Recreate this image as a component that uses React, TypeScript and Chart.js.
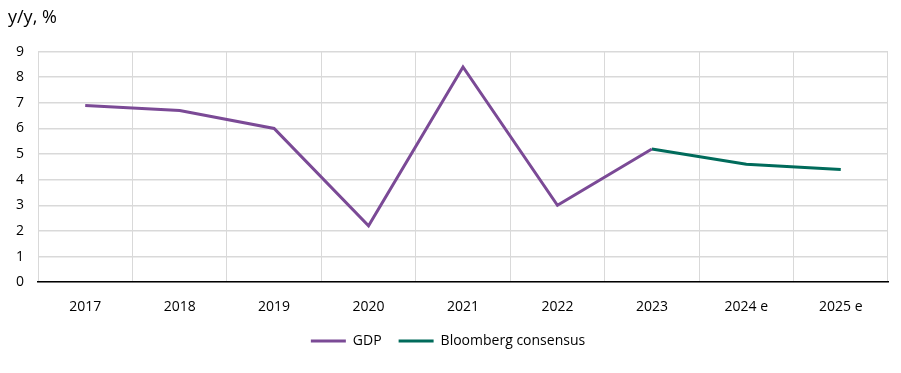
import React, { useEffect, useRef } from "react";
import { Chart, registerables } from "chart.js";

Chart.register(...registerables);

const categories = ["2017", "2018", "2019", "2020", "2021", "2022", "2023", "2024 e", "2025 e"];
const gdp = [6.9, 6.7, 6.0, 2.2, 8.4, 3.0, 5.2, null, null];
const consensus = [null, null, null, null, null, null, 5.2, 4.6, 4.4];
const yTicks = [0, 1, 2, 3, 4, 5, 6, 7, 8, 9];

const FONT = "'Open Sans', 'Noto Sans', sans-serif";

const legendShift = {
  id: "legendShift",
  afterLayout(chart: any) {
    if (chart.legend) {
      chart.legend.top -= 14;
      chart.legend.bottom -= 14;
    }
  },
};

export default function App() {
  const ref = useRef<HTMLCanvasElement>(null);
  useEffect(() => {
    if (!ref.current) return;
    const chart = new Chart(ref.current, {
      type: "line",
      data: {
        labels: categories,
        datasets: [
          {
            label: "GDP",
            data: gdp,
            borderColor: "#7B4A96",
            backgroundColor: "#7B4A96",
            borderWidth: 3,
            pointRadius: 0,
            tension: 0,
          },
          {
            label: "Bloomberg consensus",
            data: consensus,
            borderColor: "#006B5B",
            backgroundColor: "#006B5B",
            borderWidth: 3,
            pointRadius: 0,
            tension: 0,
          },
        ],
      },
      plugins: [legendShift],
      options: {
        animation: false,
        responsive: false,
        maintainAspectRatio: false,
        layout: { padding: { left: 8, right: 13, top: 0, bottom: 1 } },
        plugins: {
          title: {
            display: true,
            text: "y/y, %",
            align: "start",
            color: "#000",
            font: { family: FONT, size: 18, weight: "normal" },
            padding: { top: 7, bottom: 23 },
          },
          legend: {
            position: "bottom",
            labels: {
              color: "#000",
              font: { family: FONT, size: 14 },
              boxWidth: 35,
              boxHeight: 3,
              padding: 17,
              generateLabels: (c: any) => {
                const items = Chart.defaults.plugins.legend.labels.generateLabels(c);
                return items.map((it: any) => ({ ...it, lineWidth: 0, strokeStyle: "rgba(0,0,0,0)" }));
              },
            },
          },
          tooltip: { enabled: false },
        },
        scales: {
          x: {
            offset: true,
            grid: {
              offset: true,
              color: "#d9d9d9",
              drawTicks: false,
            },
            border: { color: "#000", width: 1.5 },
            ticks: {
              color: "#000",
              font: { family: FONT, size: 14 },
              padding: 16,
              maxRotation: 0,
            },
          },
          y: {
            min: 0,
            max: 9,
            afterBuildTicks: (axis: any) => {
              axis.ticks = yTicks.map((v) => ({ value: v }));
            },
            afterFit: (axis: any) => {
              axis.width = 30;
            },
            grid: { color: "#d9d9d9", drawTicks: false, lineWidth: 1.5 },
            border: { display: false },
            ticks: {
              color: "#000",
              font: { family: FONT, size: 14 },
              padding: 14,
            },
          },
        },
      },
    });
    return () => chart.destroy();
  }, []);
  return (
    <div style={{ position: "fixed", left: 0, top: 0, width: 901, height: 373, background: "#fff" }}>
      <canvas ref={ref} width={901} height={373} />
    </div>
  );
}
